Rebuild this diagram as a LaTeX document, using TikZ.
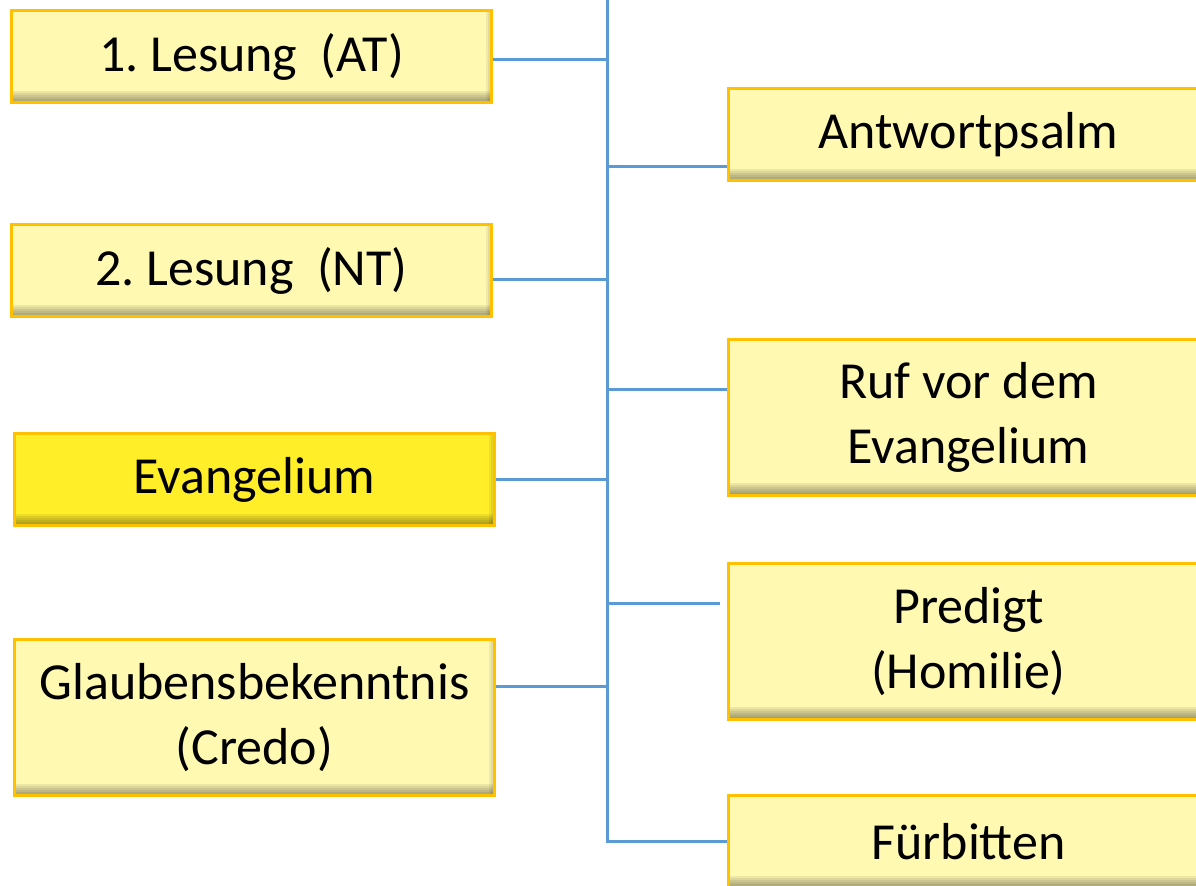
\documentclass[tikz,border=0pt]{standalone}
\usepackage{fontspec}
\setmainfont{Carlito}
\usepackage{tikz}
\definecolor{gold}{RGB}{255,192,0}
\definecolor{paleyellow}{RGB}{255,249,178}
\definecolor{brightyellow}{RGB}{255,238,40}
\definecolor{linkblue}{RGB}{91,155,213}

\begin{document}
\begin{tikzpicture}[
				x=0.5pt, y=-0.5pt,
				item/.style={rectangle, draw=gold, fill=paleyellow, line width=1.5pt,
					minimum width=240pt, minimum height=46pt, inner sep=0pt, align=center,
					font=\fontsize{26}{32.5}\selectfont,
					path picture={
						\foreach \k in {1,...,6}
							\fill[black, opacity=0.07] (path picture bounding box.south west) rectangle ([yshift=\k pt]path picture bounding box.south east);
						\foreach \k in {1,2,3}
							\fill[black, opacity=0.06] (path picture bounding box.north east) rectangle ([xshift=-\k pt]path picture bounding box.south east);
					}},
				tall/.style={minimum height=78pt},
				highlight/.style={fill=brightyellow},
				link/.style={draw=linkblue, line width=1.5pt}
				]
				
				\path[use as bounding box, clip] (0,0) rectangle (1196,886);
				
				% Nodes
				\node[item] (lesung1) at (251.5,57) {1.\ Lesung\ \ (AT)};
				\node[item] (lesung2) at (251.5,271) {2.\ Lesung\ \ (NT)};
				\node[item, highlight] (evangelium) at (254.5,480) {Evangelium};
				\node[item, tall] (credo) at (254.5,718) {Glaubensbekenntnis\\(Credo)};
				\node[item] (antwort) at (968.5,135) {Antwortpsalm};
				\node[item, tall] (ruf) at (968.5,417.5) {Ruf vor dem\\Evangelium};
				\node[item, tall] (predigt) at (968.5,641.5) {Predigt\\(Homilie)};
				\node[item] (fuerbitten) at (968.5,842) {Fürbitten};
				
				% Spine points
				\coordinate (top) at (607,0);
				\coordinate (s1) at (607,60);
				\coordinate (s2) at (607,167);
				\coordinate (s3) at (607,280);
				\coordinate (s4) at (607,390);
				\coordinate (s5) at (607,480);
				\coordinate (s6) at (607,604);
				\coordinate (s7) at (607,687);
				
				% Lines
				\draw[link] (top) -- (top |- fuerbitten.west) -- (fuerbitten.west);
				\draw[link] (lesung1.east |- s1) -- (s1);
				\draw[link] (s2) -- (s2 -| antwort.west);
				\draw[link] (lesung2.east |- s3) -- (s3);
				\draw[link] (s4) -- (s4 -| ruf.west);
				\draw[link] (evangelium.east) -- (s5);
				\draw[link] (s6) -- ([xshift=-3.5pt]s6 -| predigt.west);
				\draw[link] (credo.east |- s7) -- (s7);
				
			\end{tikzpicture}
\end{document}
